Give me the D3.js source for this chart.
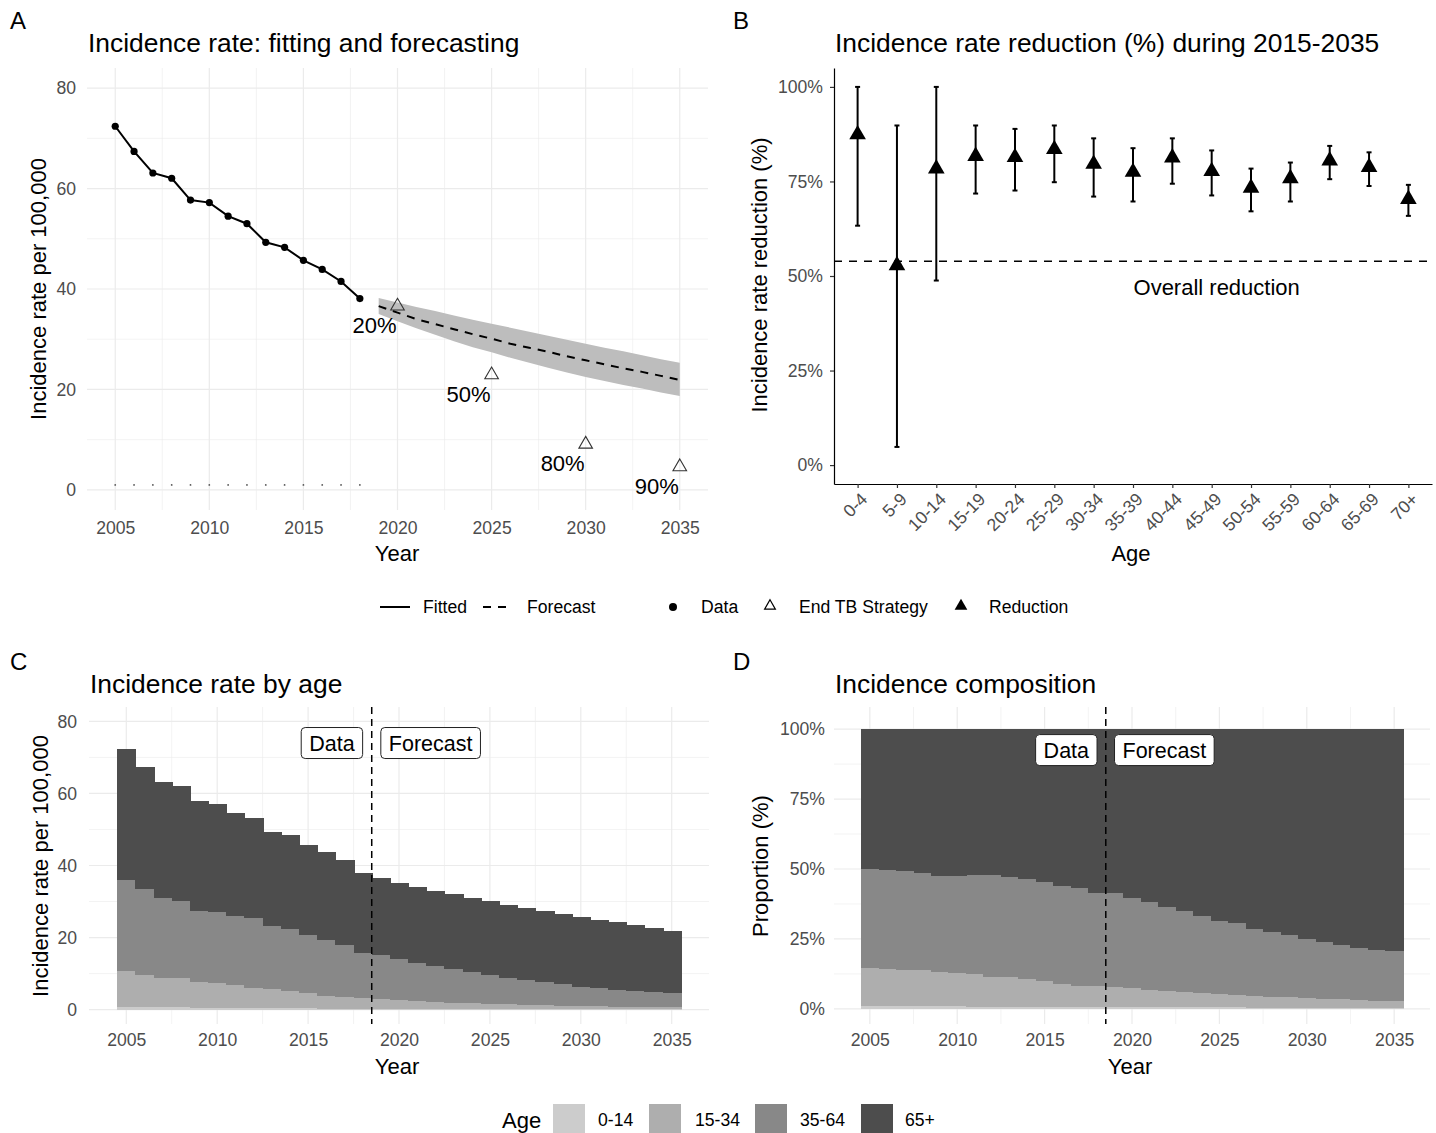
<!DOCTYPE html>
<html>
<head>
<meta charset="utf-8">
<script src="https://cdn.jsdelivr.net/npm/d3@7"></script>
<style>
  body { margin: 0; background: #fff; }
  svg { font-family: "Liberation Sans", Arial, sans-serif; display: block; }
</style>
</head>
<body>
<svg id="fig" width="1436" height="1133"></svg>
<script>
// ---- panel A data ----
var dataYears = [2005,2006,2007,2008,2009,2010,2011,2012,2013,2014,2015,2016,2017,2018];
var dataRate = [72.4,67.4,63.1,62.05,57.7,57.2,54.5,53.0,49.3,48.3,45.7,43.9,41.5,38.1];
var baseDots = [1,1,1,1,1,1,1,1,1,1,1,1,1,1];
var forecastYears = [2019,2020,2021,2022,2023,2024,2025,2026,2027,2028,2029,2030,2031,2032,2033,2034,2035];
var forecastRate = [36.6,35.3,34.0,33.0,32.0,31.0,30.1,29.1,28.3,27.5,26.6,25.8,25.0,24.2,23.5,22.7,21.9];
var forecastLow = [35.0,33.6,32.2,30.9,29.6,28.4,27.4,26.3,25.3,24.3,23.4,22.5,21.7,20.9,20.2,19.4,18.7];
var forecastHigh = [38.2,37.3,36.4,35.6,34.7,33.9,33.1,32.3,31.5,30.7,29.9,29.1,28.3,27.6,26.8,26.0,25.3];
var targetYears = [2020,2025,2030,2035];
var targetRate = [36.6,22.9,9.1,4.6];
var targetLabels = ["20%","50%","80%","90%"];

// ---- panel B data ----
var ageBands = ["0-4","5-9","10-14","15-19","20-24","25-29","30-34","35-39","40-44","45-49","50-54","55-59","60-64","65-69","70+"];
var reductionMid = [87.4,52.8,78.4,81.7,81.4,83.5,79.6,77.5,81.3,77.7,73.3,75.8,80.5,78.8,70.3];
var reductionLow = [63.3,4.8,48.8,71.8,72.6,74.8,71.0,69.7,74.4,71.3,67.1,69.7,75.6,73.8,65.9];
var reductionHigh = [100,89.8,100,89.8,88.9,89.8,86.4,83.8,86.4,83.2,78.4,80.0,84.4,82.7,74.1];
var overallReduction = 53.9;

// ---- panels C/D data ----
var allYears = [2005,2006,2007,2008,2009,2010,2011,2012,2013,2014,2015,2016,2017,2018,2019,2020,2021,2022,2023,2024,2025,2026,2027,2028,2029,2030,2031,2032,2033,2034,2035];
var age0_14 = [0.7,0.65,0.6,0.6,0.55,0.5,0.45,0.45,0.4,0.4,0.35,0.3,0.3,0.25,0.25,0.22,0.2,0.2,0.18,0.17,0.16,0.15,0.14,0.13,0.12,0.12,0.11,0.1,0.1,0.1,0.09];
var age15_34 = [10.0,8.85,8.1,8.1,7.05,6.8,6.35,5.65,5.3,4.7,4.25,3.6,3.1,2.85,2.65,2.38,2.1,1.9,1.72,1.58,1.44,1.3,1.18,1.07,0.98,0.88,0.81,0.74,0.66,0.58,0.51];
var age35_64 = [25.4,24.0,22.3,21.4,19.9,19.8,19.3,19.4,17.5,17.4,16.1,15.4,14.5,12.7,12.2,11.4,10.7,9.9,9.3,8.55,7.9,7.45,6.78,6.4,5.9,5.4,5.08,4.66,4.34,4.12,3.9];
var age65plus = [36.3,33.8,32.1,31.9,30.3,30.1,28.4,27.6,26.1,25.9,25.0,24.5,23.5,22.2,21.4,21.2,21.0,21.0,20.8,20.7,20.6,20.2,20.2,19.9,19.6,19.4,19.0,18.7,18.4,17.9,17.4];
var ageGroups = ["0-14","15-34","35-64","65+"];
var ageColors = ["#cccccc","#aeaeae","#888888","#4d4d4d"];
var splitYear = 2018.5;

var svg = d3.select("#fig");
var GRID = "#ebebeb", TICKTXT = "#4d4d4d";

function gridLines(g, x, y, xs, ys, major) {
  var w = major ? 1.2 : 0.6;
  var yr = y.range(), xr = x.range();
  g.selectAll(null).data(ys).enter().append("line")
    .attr("x1", xr[0]).attr("x2", xr[1])
    .attr("y1", function(d) { return y(d); }).attr("y2", function(d) { return y(d); })
    .attr("stroke", GRID).attr("stroke-width", w);
  g.selectAll(null).data(xs).enter().append("line")
    .attr("y1", yr[0]).attr("y2", yr[1])
    .attr("x1", function(d) { return x(d); }).attr("x2", function(d) { return x(d); })
    .attr("stroke", GRID).attr("stroke-width", w);
}

function styleAxis(g, keepLine) {
  g.selectAll("text").attr("font-size", 17.6).attr("fill", TICKTXT).attr("font-family", null);
  if (!keepLine) {
    g.select(".domain").remove();
    g.selectAll(".tick line").remove();
  } else {
    g.select(".domain").attr("stroke", "#000").attr("stroke-width", 1.2);
    g.selectAll(".tick line").attr("stroke", "#333").attr("stroke-width", 1.2);
  }
}

function addText(txt, x, y, size, opts) {
  opts = opts || {};
  var t = svg.append("text").text(txt)
    .attr("x", x).attr("y", y)
    .attr("font-size", size)
    .attr("fill", opts.fill || "#000")
    .attr("text-anchor", opts.anchor || "start");
  if (opts.rotate) t.attr("transform", "rotate(-90," + x + "," + y + ")");
  return t;
}

// ================= Panel A =================
(function() {
  var x = d3.scaleLinear().domain([2003.5, 2036.5]).range([87, 708]);
  var y = d3.scaleLinear().domain([-4, 84]).range([510, 68]);
  var g = svg.append("g");
  gridLines(g, x, y, [2007.5,2012.5,2017.5,2022.5,2027.5,2032.5], [10,30,50,70], false);
  gridLines(g, x, y, d3.range(2005, 2036, 5), [0,20,40,60,80], true);

  var band = forecastYears.map(function(d, i) { return {x: d, lo: forecastLow[i], hi: forecastHigh[i], m: forecastRate[i]}; });
  g.append("path").datum(band)
    .attr("d", d3.area().x(function(d) { return x(d.x); }).y0(function(d) { return y(d.lo); }).y1(function(d) { return y(d.hi); }))
    .attr("fill", "#bdbdbd");
  g.append("path").datum(band)
    .attr("d", d3.line().x(function(d) { return x(d.x); }).y(function(d) { return y(d.m); }))
    .attr("fill", "none").attr("stroke", "#000").attr("stroke-width", 2).attr("stroke-dasharray", "8,7");

  var pts = dataYears.map(function(d, i) { return {x: d, v: dataRate[i], b: baseDots[i]}; });
  g.append("path").datum(pts)
    .attr("d", d3.line().x(function(d) { return x(d.x); }).y(function(d) { return y(d.v); }))
    .attr("fill", "none").attr("stroke", "#000").attr("stroke-width", 2);
  g.selectAll(".pt").data(pts).enter().append("circle")
    .attr("cx", function(d) { return x(d.x); }).attr("cy", function(d) { return y(d.v); })
    .attr("r", 3.6).attr("fill", "#000");
  g.selectAll(".bd").data(pts).enter().append("circle")
    .attr("cx", function(d) { return x(d.x); }).attr("cy", function(d) { return y(d.b); })
    .attr("r", 0.9).attr("fill", "#555");

  var tri = d3.symbol().type(d3.symbolTriangle).size(80);
  targetYears.forEach(function(yr, i) {
    g.append("path").attr("d", tri())
      .attr("transform", "translate(" + x(yr) + "," + y(targetRate[i]) + ")")
      .attr("fill", "none").attr("stroke", "#333").attr("stroke-width", 1.1);
    g.append("text").text(targetLabels[i])
      .attr("x", x(yr) - 1).attr("y", y(targetRate[i]) + 27)
      .attr("text-anchor", "end").attr("font-size", 22).attr("fill", "#000");
  });

  var ax = svg.append("g").attr("transform", "translate(0,510)")
    .call(d3.axisBottom(x).tickValues(d3.range(2005, 2036, 5)).tickFormat(d3.format("d")).tickSize(0).tickPadding(12));
  styleAxis(ax, false);
  var ay = svg.append("g").attr("transform", "translate(87,0)")
    .call(d3.axisLeft(y).tickValues([0,20,40,60,80]).tickSize(0).tickPadding(11));
  styleAxis(ay, false);

  addText("A", 10, 29, 24);
  addText("Incidence rate: fitting and forecasting", 88, 52, 26.4);
  addText("Year", 397, 561, 22, {anchor: "middle"});
  addText("Incidence rate per 100,000", 46, 289, 22, {anchor: "middle", rotate: true});
})();

// ================= Panel B =================
(function() {
  var x = d3.scalePoint().domain(ageBands).range([834, 1432]).padding(0.6);
  var y = d3.scaleLinear().domain([-5, 105]).range([484, 68]);
  var g = svg.append("g");

  g.append("line")
    .attr("x1", 834).attr("x2", 1432)
    .attr("y1", y(overallReduction)).attr("y2", y(overallReduction))
    .attr("stroke", "#000").attr("stroke-width", 1.6).attr("stroke-dasharray", "8,7");
  g.append("text").text("Overall reduction")
    .attr("x", x("45-49") + 5).attr("y", y(overallReduction) + 34)
    .attr("text-anchor", "middle").attr("font-size", 22).attr("fill", "#000");

  var rows = ageBands.map(function(a, i) { return {a: a, m: reductionMid[i], lo: reductionLow[i], hi: reductionHigh[i]}; });
  var eb = g.selectAll(".eb").data(rows).enter().append("g");
  eb.append("line")
    .attr("x1", function(d) { return x(d.a); }).attr("x2", function(d) { return x(d.a); })
    .attr("y1", function(d) { return y(d.lo); }).attr("y2", function(d) { return y(d.hi); })
    .attr("stroke", "#000").attr("stroke-width", 2);
  ["lo", "hi"].forEach(function(k) {
    eb.append("line")
      .attr("x1", function(d) { return x(d.a) - 2.5; }).attr("x2", function(d) { return x(d.a) + 2.5; })
      .attr("y1", function(d) { return y(d[k]); }).attr("y2", function(d) { return y(d[k]); })
      .attr("stroke", "#000").attr("stroke-width", 2);
  });
  var tri = d3.symbol().type(d3.symbolTriangle).size(120);
  eb.append("path").attr("d", tri())
    .attr("transform", function(d) { return "translate(" + x(d.a) + "," + y(d.m) + ")"; })
    .attr("fill", "#000");

  var ax = svg.append("g").attr("transform", "translate(0,484)")
    .call(d3.axisBottom(x).tickSize(4).tickPadding(6).tickSizeOuter(0));
  styleAxis(ax, true);
  ax.selectAll("text")
    .attr("text-anchor", "end").attr("y", 0).attr("dy", "0.35em")
    .attr("transform", "translate(6,12) rotate(-45)");
  var ay = svg.append("g").attr("transform", "translate(834,0)")
    .call(d3.axisLeft(y).tickValues([0,25,50,75,100]).tickFormat(function(d) { return d + "%"; }).tickSize(4).tickPadding(7).tickSizeOuter(0));
  styleAxis(ay, true);

  addText("B", 733, 29, 24);
  addText("Incidence rate reduction (%) during 2015-2035", 835, 52, 26.4);
  addText("Age", 1131, 561, 22, {anchor: "middle"});
  addText("Incidence rate reduction (%)", 767, 275, 22, {anchor: "middle", rotate: true});
})();

// ================= Panels C & D =================
var table = allYears.map(function(yr, i) {
  return {year: yr, "0-14": age0_14[i], "15-34": age15_34[i], "35-64": age35_64[i], "65+": age65plus[i]};
});

function stackPanel(opts) {
  var x = d3.scaleLinear().domain([2002.95, 2037.05]).range(opts.xr);
  var y = d3.scaleLinear().domain(opts.yd).range([1024, 707]);
  var g = svg.append("g");
  gridLines(g, x, y, [2007.5,2012.5,2017.5,2022.5,2027.5,2032.5], opts.minor, false);
  gridLines(g, x, y, d3.range(2005, 2036, 5), opts.major, true);

  var stack = d3.stack().keys(ageGroups);
  if (opts.expand) stack.offset(d3.stackOffsetExpand);
  var series = stack(table);
  // bars of width 1 year, no gaps
  g.selectAll(".layer").data(series).enter().append("g")
    .attr("fill", function(d, i) { return ageColors[i]; })
    .attr("shape-rendering", "crispEdges")
    .selectAll("rect").data(function(d) { return d; }).enter().append("rect")
      .attr("x", function(d) { return x(d.data.year - 0.5); })
      .attr("width", function(d) { return x(d.data.year + 0.5) - x(d.data.year - 0.5) + 1; })
      .attr("y", function(d) { return y(d[1]); })
      .attr("height", function(d) { return y(d[0]) - y(d[1]); });

  g.append("line")
    .attr("x1", x(splitYear)).attr("x2", x(splitYear)).attr("y1", 707).attr("y2", 1024)
    .attr("stroke", "#000").attr("stroke-width", 1.5).attr("stroke-dasharray", "7,5");

  [["Data", 2018, "end"], ["Forecast", 2019, "start"]].forEach(function(lb) {
    var cy = y(opts.labelY);
    var t = g.append("text").text(lb[0]).attr("font-size", 21.5).attr("fill", "#000")
      .attr("y", cy).attr("dy", "0.36em");
    var w = t.node().getComputedTextLength();
    var pad = 8;
    var x0 = lb[2] === "end" ? x(lb[1]) - w - 2 * pad : x(lb[1]);
    t.attr("x", x0 + pad);
    g.append("rect")
      .attr("x", x0).attr("y", cy - 15.5).attr("width", w + 2 * pad).attr("height", 31)
      .attr("rx", 4).attr("fill", "#fff").attr("stroke", "#222").attr("stroke-width", 1);
    t.raise();
  });

  var ax = svg.append("g").attr("transform", "translate(0,1024)")
    .call(d3.axisBottom(x).tickValues(d3.range(2005, 2036, 5)).tickFormat(d3.format("d")).tickSize(0).tickPadding(10));
  styleAxis(ax, false);
  var ay = svg.append("g").attr("transform", "translate(" + opts.xr[0] + ",0)")
    .call(d3.axisLeft(y).tickValues(opts.major).tickFormat(opts.fmt).tickSize(0).tickPadding(opts.pad));
  styleAxis(ay, false);

  addText(opts.letter, opts.letterX, 670, 24);
  addText(opts.title, opts.xr[0] + 1, 693, 26.4);
  addText("Year", (opts.xr[0] + opts.xr[1]) / 2 - 2, 1074, 22, {anchor: "middle"});
  addText(opts.ytitle, opts.ytitleX, 866, 22, {anchor: "middle", rotate: true});
}

stackPanel({xr: [89, 709], yd: [-4, 84], major: [0,20,40,60,80], minor: [10,30,50,70],
  fmt: d3.format("d"), pad: 12, labelY: 74, expand: false,
  letter: "C", letterX: 10, ytitleX: 48,
  title: "Incidence rate by age", ytitle: "Incidence rate per 100,000"});
stackPanel({xr: [834, 1430], yd: [-0.054, 1.079], major: [0,0.25,0.5,0.75,1], minor: [0.125,0.375,0.625,0.875],
  fmt: d3.format(".0%"), pad: 9, labelY: 0.925, expand: true,
  letter: "D", letterX: 733, ytitleX: 768,
  title: "Incidence composition", ytitle: "Proportion (%)"});

// ================= Legends =================
(function() {
  var ly = 607;
  var g = svg.append("g");
  g.append("line").attr("x1", 380).attr("x2", 410).attr("y1", ly).attr("y2", ly).attr("stroke", "#000").attr("stroke-width", 2);
  g.append("line").attr("x1", 483).attr("x2", 513).attr("y1", ly).attr("y2", ly).attr("stroke", "#000").attr("stroke-width", 2).attr("stroke-dasharray", "8,7");
  g.append("circle").attr("cx", 673).attr("cy", ly).attr("r", 4).attr("fill", "#000");
  g.append("path").attr("d", d3.symbol().type(d3.symbolTriangle).size(50)())
    .attr("transform", "translate(770," + (ly - 1) + ")").attr("fill", "none").attr("stroke", "#000").attr("stroke-width", 1.2);
  g.append("path").attr("d", d3.symbol().type(d3.symbolTriangle).size(70)())
    .attr("transform", "translate(961," + (ly - 1) + ")").attr("fill", "#000");
  [["Fitted", 423], ["Forecast", 527], ["Data", 701], ["End TB Strategy", 799], ["Reduction", 989]].forEach(function(l) {
    addText(l[0], l[1], ly, 17.6).attr("dy", "0.36em");
  });

  var ay = 1120;
  addText("Age", 502, ay, 22).attr("dy", "0.36em");
  var sw = [553, 649, 755, 861];
  var tx = [598, 695, 800, 905];
  ageGroups.forEach(function(a, i) {
    g.append("rect").attr("x", sw[i]).attr("y", ay - 16).attr("width", 32).attr("height", 32).attr("fill", ageColors[i]);
    addText(a, tx[i], ay, 17.6).attr("dy", "0.36em");
  });
})();
</script>
</body>
</html>
